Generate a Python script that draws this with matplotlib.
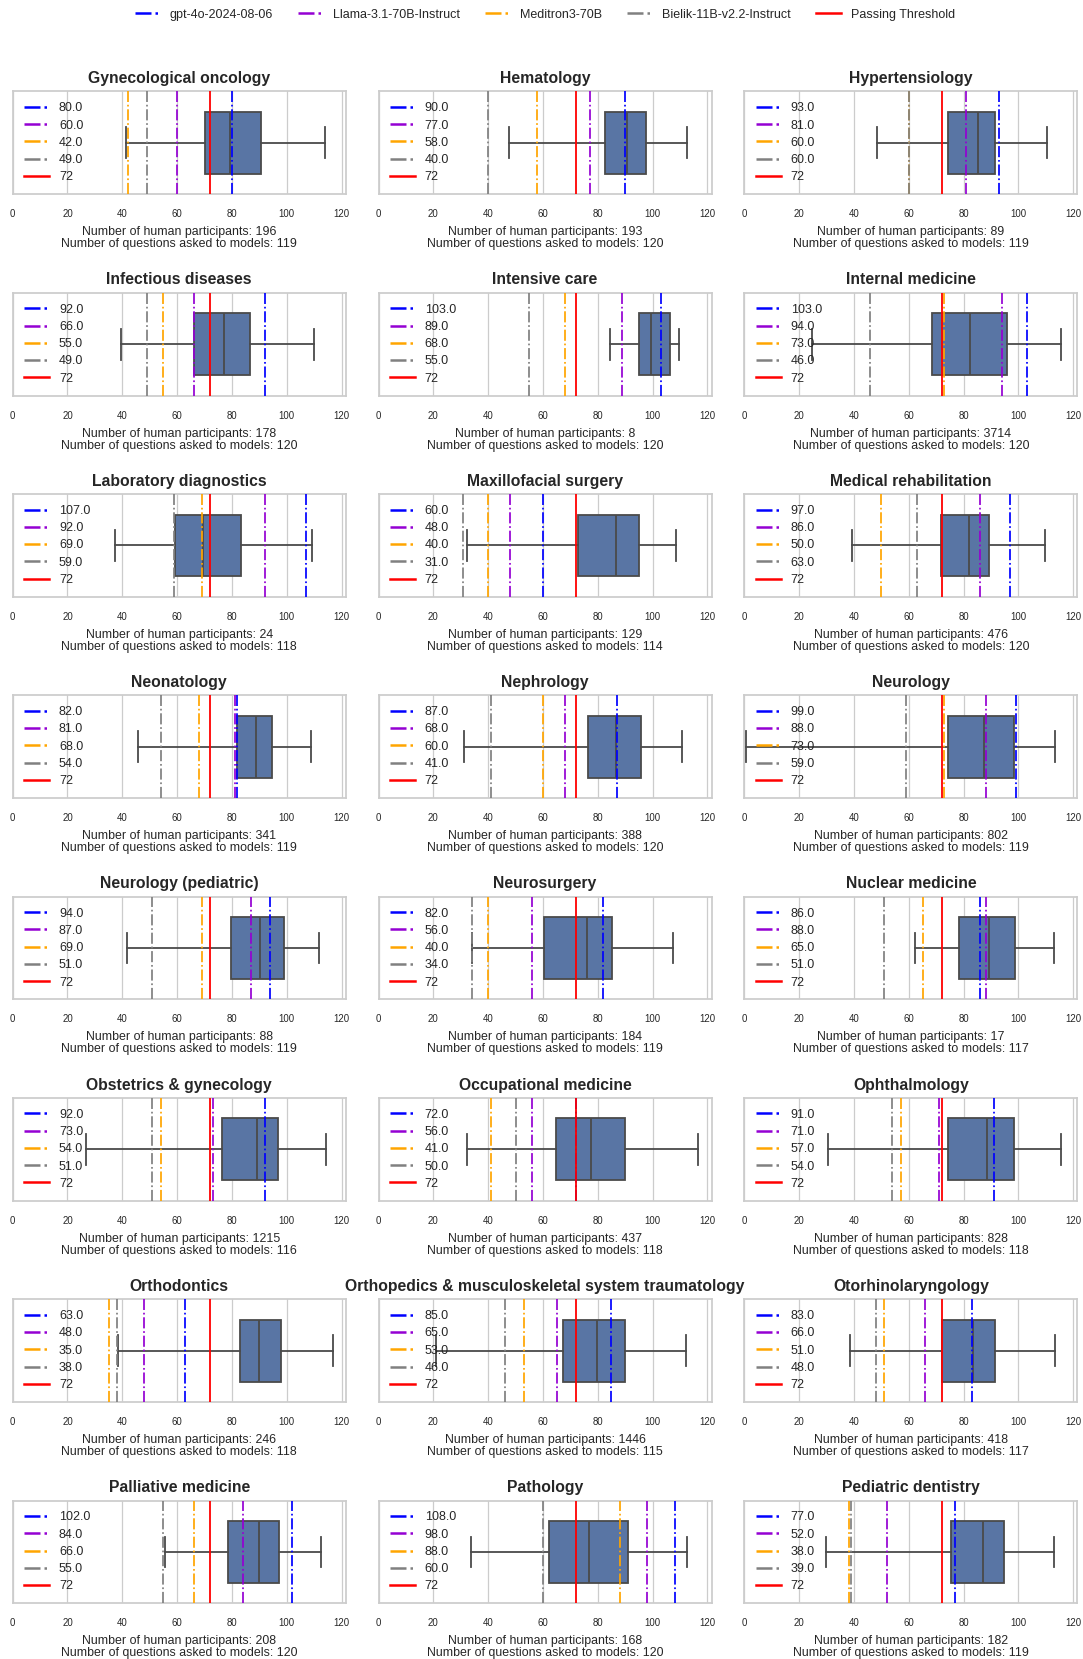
#!/usr/bin/env python3
"""Exam scores per specialty: human score distribution vs. model scores."""
import matplotlib as mpl
import matplotlib.pyplot as plt
from matplotlib.lines import Line2D

SPECIALTIES = [
    "Gynecological oncology", "Hematology", "Hypertensiology",
    "Infectious diseases", "Intensive care", "Internal medicine",
    "Laboratory diagnostics", "Maxillofacial surgery", "Medical rehabilitation",
    "Neonatology", "Nephrology", "Neurology",
    "Neurology (pediatric)", "Neurosurgery", "Nuclear medicine",
    "Obstetrics & gynecology", "Occupational medicine", "Ophthalmology",
    "Orthodontics", "Orthopedics & musculoskeletal system traumatology", "Otorhinolaryngology",
    "Palliative medicine", "Pathology", "Pediatric dentistry",
]

GPT_SCORES = [80, 90, 93, 92, 103, 103, 107, 60, 97, 82, 87, 99,
              94, 82, 86, 92, 72, 91, 63, 85, 83, 102, 108, 77]
LLAMA_SCORES = [60, 77, 81, 66, 89, 94, 92, 48, 86, 81, 68, 88,
                87, 56, 88, 73, 56, 71, 48, 65, 66, 84, 98, 52]
MEDITRON_SCORES = [42, 58, 60, 55, 68, 73, 69, 40, 50, 68, 60, 73,
                   69, 40, 65, 54, 41, 57, 35, 53, 51, 66, 88, 38]
BIELIK_SCORES = [49, 40, 60, 49, 55, 46, 59, 31, 63, 54, 41, 59,
                 51, 34, 51, 51, 50, 54, 38, 46, 48, 55, 60, 39]
PASSING_THRESHOLD = 72

HUMAN_PARTICIPANTS = [196, 193, 89, 178, 8, 3714, 24, 129, 476, 341, 388, 802,
                      88, 184, 17, 1215, 437, 828, 246, 1446, 418, 208, 168, 182]
QUESTIONS_ASKED = [119, 120, 119, 120, 120, 120, 118, 114, 120, 119, 120, 119,
                   119, 119, 117, 116, 118, 118, 118, 115, 117, 120, 120, 119]

# human score distribution: whisker low, q1, median, q3, whisker high
WHISKER_LOW = [41.3, 47.6, 48.4, 39.7, 84.6, 24.8, 37.5, 32.2, 39.2, 45.6, 31.1, 0.5,
               41.8, 34.2, 62.3, 26.8, 32.4, 30.4, 38.5, 21.0, 38.7, 55.4, 33.7, 29.9]
Q1 = [70.0, 82.5, 74.2, 66.3, 95.2, 68.4, 59.2, 72.7, 71.6, 81.8, 76.5, 74.4,
      79.5, 60.3, 78.2, 76.5, 64.6, 74.2, 82.8, 67.3, 72.2, 78.5, 62.3, 75.4]
MEDIAN = [79.3, 90.6, 85.3, 77.0, 99.3, 82.5, 69.5, 86.6, 81.8, 88.6, 86.8, 87.6,
          90.1, 75.9, 89.4, 89.1, 77.5, 88.6, 89.9, 79.7, 83.5, 89.9, 76.7, 87.1]
Q3 = [90.5, 97.7, 91.6, 86.6, 106.3, 95.7, 83.3, 94.9, 89.4, 94.7, 95.7, 98.5,
      99.0, 85.1, 98.7, 96.7, 90.1, 98.5, 98.0, 89.9, 91.6, 97.0, 90.9, 94.7]
WHISKER_HIGH = [114.1, 112.7, 110.6, 109.9, 109.6, 115.4, 109.1, 108.4, 109.6, 108.9, 110.6, 113.4,
                111.6, 107.6, 112.9, 114.2, 116.7, 115.4, 117.0, 112.2, 113.4, 112.4, 112.7, 112.9]

MODEL_NAMES = ["gpt-4o-2024-08-06", "Llama-3.1-70B-Instruct", "Meditron3-70B", "Bielik-11B-v2.2-Instruct"]
MODEL_COLORS = ["blue", "darkviolet", "orange", "gray"]
XTICKS = [0, 20, 40, 60, 80, 100, 120]

BOX_FACE = "#5975a4"
BOX_LINE = "#4a4a4a"
FRAME = "#cccccc"

COL_LEFTS = [0.0117, 0.3495, 0.6873]
AX_WIDTH = 0.3075
AX_HEIGHT = 0.062
TOP_BOTTOM = 0.8829
ROW_STEP = 0.12134


def configure_matplotlib() -> None:
    mpl.rcParams.update(
        {
            "font.family": ["Liberation Sans", "DejaVu Sans"],
            "text.color": "#262626",
            "axes.labelcolor": "#262626",
            "xtick.color": "#262626",
            "figure.facecolor": "white",
            "axes.facecolor": "white",
        }
    )


def draw_panel(ax: plt.Axes, i: int) -> None:
    stats = {
        "whislo": WHISKER_LOW[i],
        "q1": Q1[i],
        "med": MEDIAN[i],
        "q3": Q3[i],
        "whishi": WHISKER_HIGH[i],
        "fliers": [],
    }
    ax.bxp(
        [stats],
        positions=[0],
        widths=0.6,
        orientation="horizontal",
        patch_artist=True,
        showfliers=False,
        boxprops={"facecolor": BOX_FACE, "edgecolor": BOX_LINE, "linewidth": 1.3},
        medianprops={"color": BOX_LINE, "linewidth": 1.3},
        whiskerprops={"color": BOX_LINE, "linewidth": 1.3},
        capprops={"color": BOX_LINE, "linewidth": 1.3},
        zorder=2,
    )

    scores = [GPT_SCORES[i], LLAMA_SCORES[i], MEDITRON_SCORES[i], BIELIK_SCORES[i]]
    for score, color in zip(scores, MODEL_COLORS):
        ax.axvline(score, color=color, linestyle="-.", linewidth=1.25, label=f"{float(score):.1f}", zorder=3)
    ax.axvline(PASSING_THRESHOLD, color="red", linestyle="-", linewidth=1.3, label=f"{PASSING_THRESHOLD}", zorder=3)

    ax.set_xlim(0, 121.5)
    ax.set_ylim(-0.5, 0.5)
    ax.set_xticks(XTICKS)
    ax.set_yticks([])
    ax.tick_params(axis="x", length=0, pad=10.8, labelsize=6.9)
    ax.grid(axis="x", color=FRAME, linewidth=0.9)
    ax.set_axisbelow(True)
    for spine in ax.spines.values():
        spine.set_color(FRAME)
        spine.set_linewidth(1.25)

    ax.set_title(SPECIALTIES[i], fontsize=11.3, fontweight="bold", pad=6)
    ax.set_xlabel(
        f"Number of human participants: {HUMAN_PARTICIPANTS[i]}\n"
        f"Number of questions asked to models: {QUESTIONS_ASKED[i]}",
        fontsize=8.9,
        linespacing=1.0,
        labelpad=5,
    )
    legend = ax.legend(loc="center left", frameon=False, fontsize=9, labelspacing=0.42, handlelength=2.0)
    for handle in legend.get_lines():
        handle.set_linewidth(1.8)


def main() -> None:
    configure_matplotlib()
    fig = plt.figure(figsize=(10.83, 16.59), dpi=100)

    for i in range(len(SPECIALTIES)):
        row, col = divmod(i, 3)
        ax = fig.add_axes([COL_LEFTS[col], TOP_BOTTOM - row * ROW_STEP, AX_WIDTH, AX_HEIGHT])
        draw_panel(ax, i)

    handles = [Line2D([], [], color=c, linestyle="-.", linewidth=1.8) for c in MODEL_COLORS]
    handles.append(Line2D([], [], color="red", linestyle="-", linewidth=1.8))
    labels = MODEL_NAMES + ["Passing Threshold"]
    fig.legend(
        handles,
        labels,
        loc="center",
        bbox_to_anchor=(0.503, 0.9912),
        ncol=5,
        frameon=False,
        fontsize=9,
        handlelength=2.0,
        columnspacing=2.0,
    )

    fig.savefig("out.png", dpi=100)


if __name__ == "__main__":
    main()
